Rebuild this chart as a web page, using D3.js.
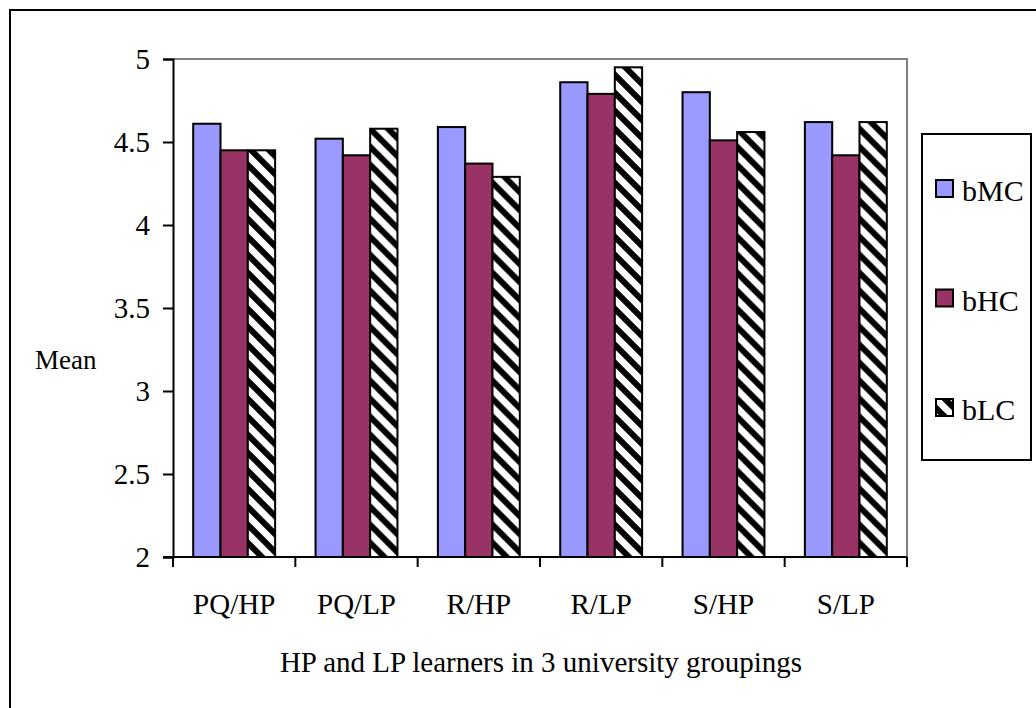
<!DOCTYPE html>
<html>
<head>
<meta charset="utf-8">
<script src="https://cdn.jsdelivr.net/npm/d3@7"></script>
<style>
  html, body { margin: 0; padding: 0; background: #fff; }
  svg { display: block; font-family: "Liberation Serif", "Times New Roman", serif; }
</style>
</head>
<body>
<svg id="chart" width="1036" height="708"></svg>
<script>
// Groups along the x axis
const categories = ["PQ/HP", "PQ/LP", "R/HP", "R/LP", "S/HP", "S/LP"];
// Series names
const seriesNames = ["bMC", "bHC", "bLC"];
// Mean values per series, one per group
const bMC = [4.61, 4.52, 4.59, 4.86, 4.80, 4.62];
const bHC = [4.45, 4.42, 4.37, 4.79, 4.51, 4.42];
const bLC = [4.45, 4.58, 4.29, 4.95, 4.56, 4.62];
// y-axis tick values
const yTicks = [2, 2.5, 3, 3.5, 4, 4.5, 5];

const seriesValues = { bMC, bHC, bLC };

const svg = d3.select("#chart");

// Hatch pattern for bLC
const defs = svg.append("defs");
const pat = defs.append("pattern")
  .attr("id", "hatch")
  .attr("patternUnits", "userSpaceOnUse")
  .attr("width", 18).attr("height", 18);
pat.append("rect").attr("width", 18).attr("height", 18).attr("fill", "#fff");
pat.append("path")
  .attr("d", "M-4.5,-4.5 L22.5,22.5 M-4.5,13.5 L4.5,22.5 M13.5,-4.5 L22.5,4.5")
  .attr("stroke", "#000").attr("stroke-width", 6);

const fills = { bMC: "#9999FF", bHC: "#993366", bLC: "url(#hatch)" };

// Outer frame
svg.append("rect")
  .attr("x", 10).attr("y", 10).attr("width", 1040).attr("height", 710)
  .attr("fill", "none").attr("stroke", "#000").attr("stroke-width", 2);

const plot = { left: 173, right: 907, top: 59, bottom: 557 };

const x = d3.scaleBand().domain(categories).range([plot.left, plot.right]).padding(0);
const xs = d3.scaleBand().domain(seriesNames).range([0, x.bandwidth()])
  .paddingInner(0).paddingOuter(0.74);
const y = d3.scaleLinear().domain([2, 5]).range([plot.bottom, plot.top]);

// Plot area border (top and right in grey)
svg.append("path")
  .attr("d", `M${plot.left},${plot.top} H${plot.right} V${plot.bottom}`)
  .attr("fill", "none").attr("stroke", "#808080").attr("stroke-width", 2);

// Bars
const rows = categories.map((c, i) => ({ cat: c, vals: seriesNames.map(s => ({ s, v: seriesValues[s][i] })) }));
const g = svg.append("g");
g.selectAll("g.grp").data(rows).join("g")
  .attr("class", "grp")
  .attr("transform", d => `translate(${x(d.cat)},0)`)
  .selectAll("rect").data(d => d.vals).join("rect")
  .attr("x", d => xs(d.s))
  .attr("y", d => y(d.v))
  .attr("width", xs.bandwidth())
  .attr("height", d => y(2) - y(d.v))
  .attr("fill", d => fills[d.s])
  .attr("stroke", "#000").attr("stroke-width", 2);

// Y axis
const yAxis = d3.axisLeft(y).tickValues(yTicks).tickSize(10).tickPadding(13)
  .tickFormat(d => String(d));
const ya = svg.append("g").attr("transform", `translate(${plot.left},0)`).call(yAxis);
ya.attr("font-family", null).attr("font-size", null);
ya.select(".domain").attr("stroke", "#000").attr("stroke-width", 2);
ya.selectAll(".tick line").attr("stroke", "#000").attr("stroke-width", 2);
ya.selectAll(".tick text").attr("font-size", 29).attr("fill", "#000");

// X axis with boundary ticks
const xa = svg.append("g").attr("transform", `translate(0,${plot.bottom})`);
xa.append("line").attr("x1", plot.left - 10).attr("x2", plot.right)
  .attr("stroke", "#000").attr("stroke-width", 2);
const bounds = categories.map(c => x(c)).concat([plot.right]);
xa.selectAll("line.bt").data(bounds).join("line")
  .attr("class", "bt")
  .attr("x1", d => d).attr("x2", d => d).attr("y1", 0).attr("y2", 10)
  .attr("stroke", "#000").attr("stroke-width", 2);
xa.selectAll("text").data(categories).join("text")
  .attr("x", d => x(d) + x.bandwidth() / 2)
  .attr("y", 57)
  .attr("text-anchor", "middle")
  .attr("font-size", 29)
  .text(d => d);

// Axis titles
svg.append("text").attr("x", 541).attr("y", 672).attr("text-anchor", "middle")
  .attr("font-size", 29).text("HP and LP learners in 3 university groupings");
svg.append("text").attr("x", 35).attr("y", 369)
  .attr("font-size", 27).text("Mean");

// Legend
const leg = svg.append("g");
leg.append("rect").attr("x", 922).attr("y", 134).attr("width", 109).attr("height", 326)
  .attr("fill", "#fff").attr("stroke", "#000").attr("stroke-width", 2);
const legY = d3.scalePoint().domain(seriesNames).range([189, 408]);
const li = leg.selectAll("g.li").data(seriesNames).join("g").attr("class", "li")
  .attr("transform", d => `translate(0,${legY(d)})`);
li.append("rect").attr("x", 936).attr("y", -9).attr("width", 17).attr("height", 17)
  .attr("fill", d => fills[d]).attr("stroke", "#000").attr("stroke-width", 2);
li.append("text").attr("x", 962).attr("y", 12).attr("font-size", 30).text(d => d);
</script>
</body>
</html>
